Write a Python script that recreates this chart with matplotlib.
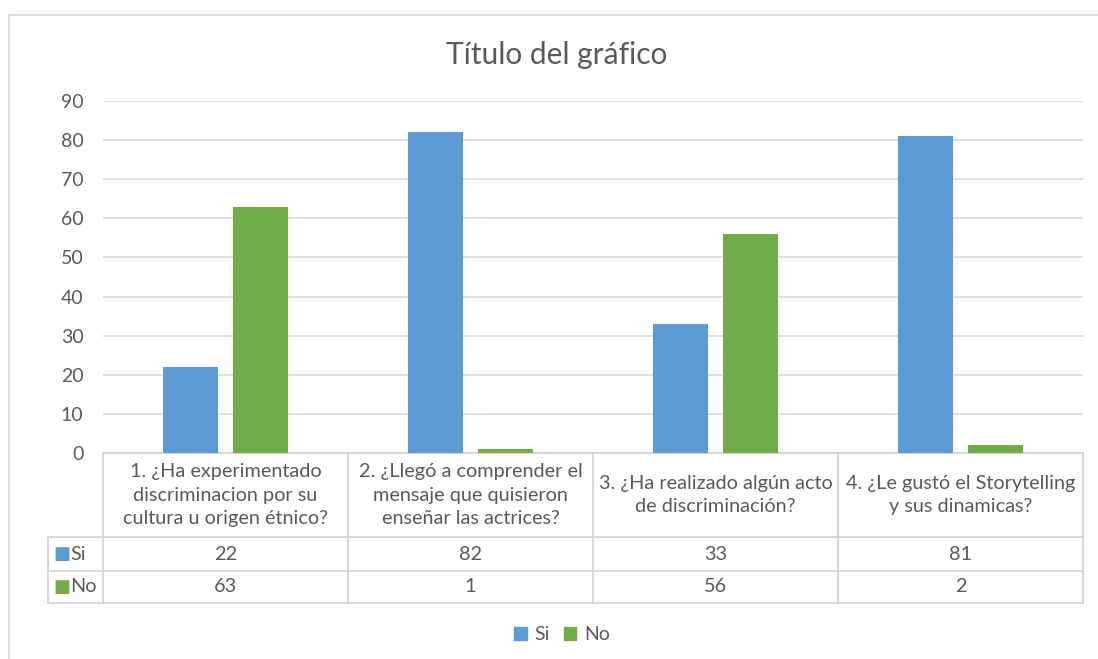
import matplotlib.pyplot as plt
from matplotlib.patches import Rectangle
from matplotlib.lines import Line2D
import numpy as np

plt.rcParams['font.family'] = ['Lato', 'DejaVu Sans']

categories = [
    "1. ¿Ha experimentado\ndiscriminacion por su\ncultura u origen étnico?",
    "2. ¿Llegó a comprender el\nmensaje que quisieron\nenseñar las actrices?",
    "3. ¿Ha realizado algún acto\nde discriminación?",
    "4. ¿Le gustó el Storytelling\ny sus dinamicas?",
]
si_values = [22, 82, 33, 81]
no_values = [63, 1, 56, 2]
series_names = ["Si", "No"]

BLUE = "#5B9BD5"
GREEN = "#70AD47"
TEXT = "#595959"
GRID = "#D9D9D9"

W, H = 1098, 659
fig = plt.figure(figsize=(W / 100, H / 100), dpi=100)

# chart frame
fig.patches.append(Rectangle((9 / W, -0.1), 1.2, (H - 15) / H + 0.1, transform=fig.transFigure,
                             fill=False, edgecolor="#D9D9D9", linewidth=1.2))

ax = fig.add_axes([103 / W, (H - 453) / H, 980 / W, 352 / H])
x = np.arange(len(categories))
bw = 0.2245
off = 0.143
ax.bar(x - off, si_values, bw, color=BLUE, zorder=3)
ax.bar(x + off, no_values, bw, color=GREEN, zorder=3)
ax.set_xlim(-0.5, len(categories) - 0.5)
ax.set_ylim(0, 90)
ax.set_yticks(range(0, 91, 10))
ax.yaxis.grid(True, color=GRID, linewidth=1.2, zorder=0)
ax.set_xticks([])
for s in ax.spines.values():
    s.set_visible(False)
ax.tick_params(axis="y", length=0, pad=14, labelsize=14, labelcolor=TEXT)

fig.text(557 / W, (H - 55) / H, "Título del gráfico", ha="center", va="center",
         fontsize=21.5, color=TEXT)

# data table under the axis, in data-x / axes-y coordinates
tr = ax.get_xaxis_transform()
ph = 352.0
y_head = -(537 - 453) / ph
y_si = -(571 - 453) / ph
y_no = -(603 - 453) / ph
x_left = -0.5 - (103 - 48) / 245.0
x_right = len(categories) - 0.5
lc = "#D0D0D0"
lw = 1.2
for yy in [y_head, y_si, y_no]:
    ax.add_line(Line2D([x_left, x_right], [yy, yy], transform=tr, color=lc, lw=lw, clip_on=False))
ax.add_line(Line2D([-0.5, x_right], [0, 0], transform=tr, color=lc, lw=lw, clip_on=False))
ax.add_line(Line2D([x_left, x_left], [y_head, y_no], transform=tr, color=lc, lw=lw, clip_on=False))
for i in range(len(categories) + 1):
    ax.add_line(Line2D([i - 0.5, i - 0.5], [0, y_no], transform=tr, color=lc, lw=lw, clip_on=False))

for i, cat in enumerate(categories):
    ax.text(i, y_head / 2, cat, transform=tr, ha="center", va="center", fontsize=14.3,
            color=TEXT, linespacing=1.45)
    ax.text(i, (y_head + y_si) / 2, str(si_values[i]), transform=tr, ha="center",
            va="center", fontsize=14.3, color=TEXT)
    ax.text(i, (y_si + y_no) / 2, str(no_values[i]), transform=tr, ha="center",
            va="center", fontsize=14.3, color=TEXT)

# row labels with color keys
for name, col, (y0, y1) in zip(series_names, [BLUE, GREEN], [(y_head, y_si), (y_si, y_no)]):
    ym = (y0 + y1) / 2
    ax.text(x_left + 0.022, ym, "■", transform=tr, ha="left", va="center", fontsize=13,
            color=col, family="DejaVu Sans")
    ax.text(x_left + 0.092, ym, name, transform=tr, ha="left", va="center", fontsize=14.3,
            color=TEXT)

# legend
handles = [Rectangle((0, 0), 1, 1, color=BLUE), Rectangle((0, 0), 1, 1, color=GREEN)]
fig.legend(handles, series_names, loc="center", bbox_to_anchor=(562 / W, (H - 635) / H),
           ncol=2, frameon=False, fontsize=14, handlelength=0.65, handleheight=0.65,
           handletextpad=0.4, columnspacing=0.7, labelcolor=TEXT)

fig.savefig("out.png", dpi=100)
